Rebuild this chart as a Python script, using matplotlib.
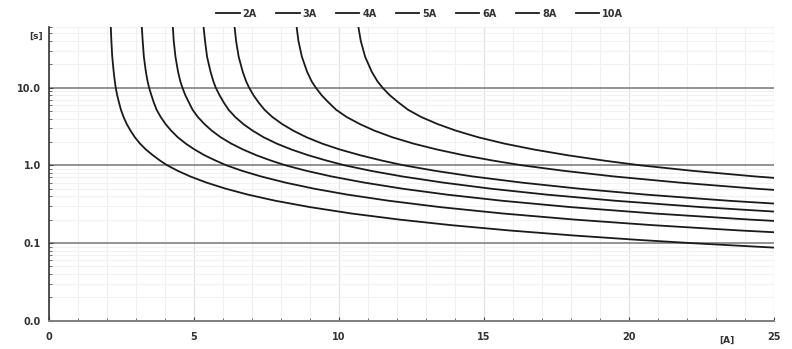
import matplotlib
matplotlib.use("Agg")
import matplotlib.pyplot as plt
from matplotlib.ticker import LogLocator, FixedLocator, MultipleLocator

# trip times [s], shared by all curves (each curve uses the first n)
times = [60, 40, 25, 16, 12, 10, 8, 6.5, 5.2, 4.2, 3.4, 2.8, 2.3, 1.9, 1.6, 1.35,
         1.15, 1.0, 0.85, 0.72, 0.6, 0.5, 0.42, 0.35, 0.29, 0.24, 0.2, 0.17, 0.145,
         0.125, 0.11, 0.1, 0.089, 0.087]

# currents [A] for each fuse rating (last point may run past 25 A and gets clipped)
cur_2a = [2.13, 2.15, 2.18, 2.23, 2.27, 2.30, 2.35, 2.41, 2.48, 2.57, 2.68, 2.81,
          2.96, 3.14, 3.34, 3.58, 3.83, 4.08, 4.44, 4.87, 5.43, 6.10, 6.86, 7.81,
          9.00, 10.43, 12.10, 13.86, 15.89, 18.10, 20.28, 22.10, 24.58, 25.08]
cur_3a = [3.20, 3.23, 3.27, 3.34, 3.40, 3.45, 3.53, 3.61, 3.71, 3.85, 4.02, 4.21,
          4.44, 4.72, 5.02, 5.36, 5.75, 6.12, 6.66, 7.31, 8.15, 9.15, 10.29, 11.72,
          13.49, 15.65, 18.15, 20.80, 23.84, 27.15]
cur_4a = [4.27, 4.30, 4.36, 4.45, 4.53, 4.60, 4.70, 4.82, 4.95, 5.13, 5.36, 5.61,
          5.92, 6.29, 6.69, 7.15, 7.66, 8.16, 8.88, 9.74, 10.87, 12.20, 13.72, 15.63,
          17.99, 20.87, 24.20, 27.73]
cur_5a = [5.33, 5.38, 5.45, 5.57, 5.67, 5.75, 5.88, 6.02, 6.19, 6.42, 6.70, 7.02,
          7.40, 7.86, 8.36, 8.94, 9.58, 10.20, 11.10, 12.18, 13.59, 15.25, 17.16,
          19.54, 22.49, 26.09]
cur_6a = [6.40, 6.45, 6.54, 6.68, 6.80, 6.90, 7.05, 7.22, 7.43, 7.70, 8.04, 8.42,
          8.88, 9.43, 10.03, 10.73, 11.49, 12.24, 13.32, 14.61, 16.30, 18.30, 20.59,
          23.44, 26.99]
cur_8a = [8.54, 8.60, 8.72, 8.90, 9.06, 9.20, 9.40, 9.63, 9.90, 10.26, 10.72, 11.22,
          11.84, 12.58, 13.38, 14.30, 15.32, 16.32, 17.76, 19.48, 21.74, 24.40, 27.45]
cur_10a = [10.67, 10.75, 10.90, 11.13, 11.33, 11.50, 11.75, 12.04, 12.38, 12.83,
           13.40, 14.03, 14.80, 15.72, 16.72, 17.88, 19.15, 20.40, 22.20, 24.35, 27.17]

labels = ["2A", "3A", "4A", "5A", "6A", "8A", "10A"]
currents = [cur_2a, cur_3a, cur_4a, cur_5a, cur_6a, cur_8a, cur_10a]

fig = plt.figure(figsize=(7.92, 3.49), dpi=100)
ax = fig.add_axes([0.0619, 0.0811, 0.9154, 0.8424])

for lab, cur in zip(labels, currents):
    ax.plot(cur, times[:len(cur)], color="#1a1a1a", lw=1.3, label=lab)

ax.set_yscale("log")
ax.set_xlim(0, 25)
ax.set_ylim(0.01, 61)

ax.yaxis.set_major_locator(FixedLocator([0.01, 0.1, 1, 10]))
ax.yaxis.set_minor_locator(LogLocator(base=10, subs=range(2, 10)))
ax.set_yticklabels(["0.0", "0.1", "1.0", "10.0"])
ax.xaxis.set_major_locator(MultipleLocator(5))
ax.xaxis.set_minor_locator(MultipleLocator(1))

# grid
ax.grid(which="minor", axis="y", color="#f2f2f2", lw=0.8)
ax.grid(which="minor", axis="x", color="#f0f0f0", lw=0.8)
ax.grid(which="major", axis="x", color="#e2e2e2", lw=0.9)
ax.grid(which="major", axis="y", color="#808080", lw=1.2)
ax.set_axisbelow(True)

for s in ["top", "right"]:
    ax.spines[s].set_visible(False)
ax.spines["left"].set_color("#333333")
ax.spines["left"].set_linewidth(1.2)
ax.spines["bottom"].set_color("#808080")
ax.spines["bottom"].set_linewidth(1.4)

ax.tick_params(axis="both", which="major", direction="in", length=3, color="#444444",
               labelsize=7, labelcolor="#333333")
ax.tick_params(axis="both", which="minor", direction="in", length=2, color="#555555")
ax.tick_params(axis="x", pad=8)
ax.tick_params(axis="y", pad=6)
for t in ax.get_xticklabels() + ax.get_yticklabels():
    t.set_fontweight("bold")

fig.text(0.045, 0.895, "[s]", fontsize=6.5, fontweight="bold", color="#333333",
         ha="center", va="center")
fig.text(0.918, 0.025, "[A]", fontsize=6.5, fontweight="bold", color="#333333",
         ha="center", va="center")

fig.legend(loc="upper center", bbox_to_anchor=(0.53, 1.0), ncol=7, frameon=False,
           prop={"size": 7, "weight": "bold"}, labelcolor="#333333",
           handlelength=2.4, handletextpad=0.3, columnspacing=2.0)

fig.savefig("out.png", dpi=100)
